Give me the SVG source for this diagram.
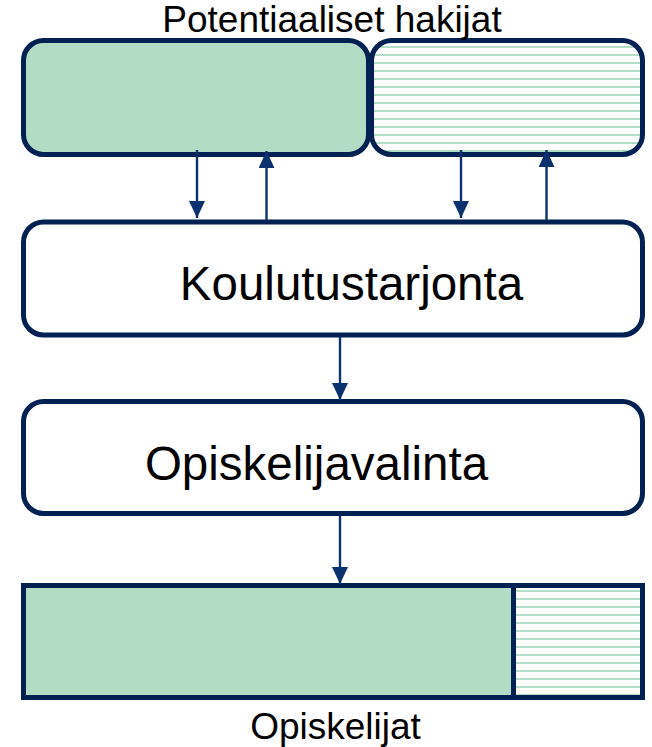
<svg xmlns="http://www.w3.org/2000/svg" width="652" height="747" viewBox="0 0 652 747">
<style>
.box{stroke:#002152;stroke-width:5}
.green{fill:#b0ddc3}
.hatch{fill:url(#hatch)}
.white{fill:#ffffff}
.lbl{font-family:"Liberation Sans",Arial,sans-serif;fill:#000000;text-anchor:middle}
.conn{stroke:#0b326e;stroke-width:2.4;fill:none;marker-end:url(#ah)}
</style>
<defs>
<pattern id="hatch" patternUnits="userSpaceOnUse" x="0" y="0" width="8" height="8">
<rect x="0" y="0" width="8" height="8" fill="#ffffff"/>
<rect x="0" y="6" width="8" height="2.7" fill="#b0ddc3"/>
</pattern>
<marker id="ah" markerUnits="userSpaceOnUse" markerWidth="17" markerHeight="16" refX="17" refY="8" orient="auto">
<path d="M0,0 L17,8 L0,16 Z" fill="#0b326e"/>
</marker>
</defs>
<rect width="652" height="747" fill="#ffffff"/>
<g id="hakijat">
<rect id="hakijat-a" class="box green" x="23.5" y="40.5" width="345" height="114" rx="20"/>
<rect id="hakijat-b" class="box hatch" x="371.5" y="40.5" width="271" height="114" rx="20"/>
<text class="lbl" x="332" y="32" font-size="37">Potentiaaliset hakijat</text>
</g>
<g id="koulutustarjonta">
<rect class="box white" x="23.5" y="222" width="619" height="113" rx="20"/>
<text class="lbl" x="351.5" y="300" font-size="47.5">Koulutustarjonta</text>
</g>
<g id="opiskelijavalinta">
<rect class="box white" x="23.5" y="401.5" width="619" height="112" rx="20"/>
<text class="lbl" x="316.5" y="480" font-size="47.5">Opiskelijavalinta</text>
</g>
<g id="opiskelijat">
<rect class="box green" x="23.5" y="585.5" width="490" height="112"/>
<rect class="box hatch" x="513.5" y="585.5" width="129" height="112"/>
<text class="lbl" x="335.5" y="739" font-size="37">Opiskelijat</text>
</g>
<g id="connectors">
<line class="conn" x1="197" y1="150" x2="197" y2="218"/>
<line class="conn" x1="266.5" y1="220" x2="266.5" y2="151"/>
<line class="conn" x1="461" y1="150" x2="461" y2="218"/>
<line class="conn" x1="546.5" y1="220" x2="546.5" y2="150"/>
<line class="conn" x1="340" y1="337" x2="340" y2="400"/>
<line class="conn" x1="340" y1="516" x2="340" y2="584"/>
</g>
</svg>
